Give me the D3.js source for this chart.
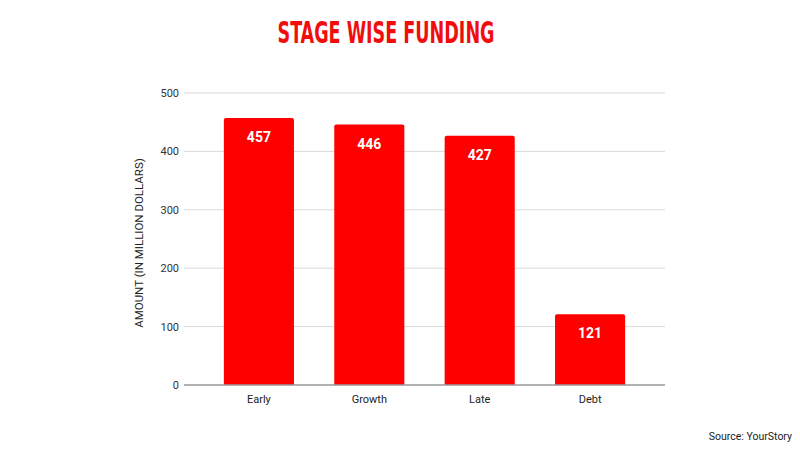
<!DOCTYPE html>
<html>
<head>
<meta charset="utf-8">
<script src="https://cdn.jsdelivr.net/npm/d3@7"></script>
<style>
  body { margin: 0; background: #fff; }
  svg text { font-family: Roboto, "Liberation Sans", Arial, sans-serif; }
</style>
</head>
<body>
<div id="chart"></div>
<script>
const stages = ['Early', 'Growth', 'Late', 'Debt']
const amounts = [457, 446, 427, 121]
const yTicks = [0, 100, 200, 300, 400, 500]

const width = 800, height = 450

const svg = d3.select('#chart').append('svg')
    .attr('width', width)
    .attr('height', height)

// title
svg.append('text')
    .attr('x', 386)
    .attr('y', 43)
    .attr('text-anchor', 'middle')
    .attr('textLength', 217)
    .attr('lengthAdjust', 'spacingAndGlyphs')
    .style('font-family', '"Liberation Sans Narrow", "DejaVu Sans Condensed", sans-serif')
    .style('font-weight', 'bold')
    .style('font-size', '31px')
    .style('fill', '#f20d0d')
    .text('STAGE WISE FUNDING')

const x = d3.scaleBand()
    .domain(stages)
    .range([204, 645])
    .paddingInner(0.365)
    .paddingOuter(0.18)

const y = d3.scaleLinear()
    .domain([0, 500])
    .range([385, 93])

const gridLeft = 184, gridRight = 665

// gridlines
svg.append('g')
    .selectAll('line')
    .data(yTicks.filter(d => d > 0))
    .join('line')
    .attr('x1', gridLeft)
    .attr('x2', gridRight)
    .attr('y1', d => y(d))
    .attr('y2', d => y(d))
    .style('stroke', '#d9d9d9')
    .style('stroke-width', 1)

// y tick labels
svg.append('g')
    .selectAll('text')
    .data(yTicks)
    .join('text')
    .attr('x', 179)
    .attr('y', d => y(d) + 4)
    .attr('text-anchor', 'end')
    .style('font-size', '11px')
    .style('fill', '#333')
    .text(d => d)

// bars
svg.append('g')
    .selectAll('path')
    .data(stages)
    .join('path')
    .attr('d', (d, i) => {
        const x0 = x(d), w = x.bandwidth(), top = y(amounts[i]), bot = y(0), r = 2
        return `M${x0},${bot} V${top + r} Q${x0},${top} ${x0 + r},${top} H${x0 + w - r} Q${x0 + w},${top} ${x0 + w},${top + r} V${bot} Z`
    })
    .style('fill', '#ff0000')

// value labels
svg.append('g')
    .selectAll('text')
    .data(stages)
    .join('text')
    .attr('x', d => x(d) + x.bandwidth() / 2)
    .attr('y', (d, i) => y(amounts[i]) + 24)
    .attr('text-anchor', 'middle')
    .style('font-size', '14px')
    .style('font-weight', 'bold')
    .style('fill', '#fff')
    .text((d, i) => amounts[i])

// baseline
svg.append('line')
    .attr('x1', gridLeft)
    .attr('x2', gridRight)
    .attr('y1', y(0))
    .attr('y2', y(0))
    .style('stroke', '#999')
    .style('stroke-width', 1.5)

// x labels
svg.append('g')
    .selectAll('text')
    .data(stages)
    .join('text')
    .attr('x', d => x(d) + x.bandwidth() / 2)
    .attr('y', 403)
    .attr('text-anchor', 'middle')
    .style('font-size', '11px')
    .style('fill', '#222')
    .text(d => d)

// y axis title
svg.append('text')
    .attr('transform', 'translate(143, 243) rotate(-90)')
    .attr('text-anchor', 'middle')
    .style('font-size', '11.5px')
    .style('fill', '#222')
    .text('AMOUNT (IN MILLION DOLLARS)')

// source
svg.append('text')
    .attr('x', 792)
    .attr('y', 440)
    .attr('text-anchor', 'end')
    .style('font-size', '10.5px')
    .style('fill', '#222')
    .text('Source: YourStory')
</script>
</body>
</html>
